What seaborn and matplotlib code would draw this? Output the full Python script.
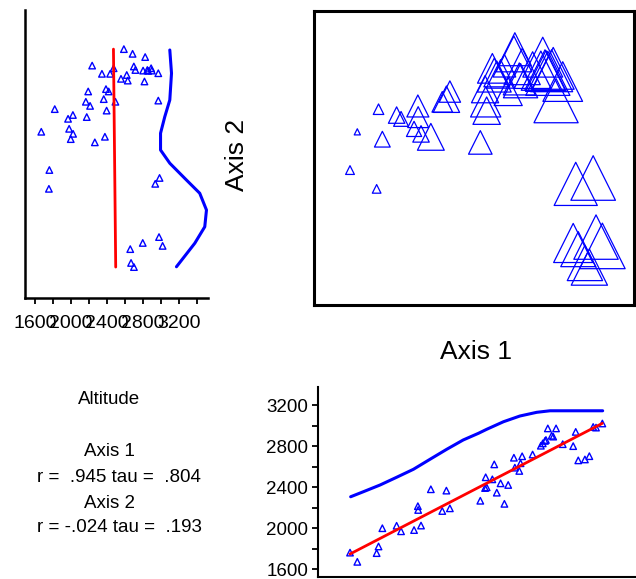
import numpy as np
import pandas as pd
import matplotlib
matplotlib.use("Agg")
import matplotlib.pyplot as plt
import seaborn as sns
from matplotlib.ticker import MultipleLocator, FuncFormatter

# ---------------- data ----------------
axis1 = [10.1, 12.4, 18.5, 19.1, 20.3, 24.8, 26.2, 30.3, 32.5, 31.5,
         31.6, 35.6, 39.2, 40.5, 41.6, 51.2, 52.9, 52.7, 53.2, 55.0,
         55.6, 56.4, 57.6, 58.8, 60.0, 61.8, 62.1, 63.5, 63.9, 64.4,
         67.7, 70.3, 70.9, 71.6, 71.9, 72.5, 73.7, 74.2, 75.1, 77.2,
         81.3, 86.8, 87.7, 89.7, 80.5, 82.1, 84.2, 85.6]
axis2 = [45.9, 58.9, 39.5, 66.6, 56.4, 64.6, 63.3, 59.9, 58.2, 67.7,
         63.9, 57.2, 69.1, 70.0, 72.6, 55.3, 69.1, 73.4, 66.1, 80.5,
         78.2, 78.6, 78.6, 81.4, 72.6, 85.4, 87.0, 76.9, 76.3, 81.1,
         79.9, 79.7, 84.3, 79.9, 79.6, 78.8, 79.7, 80.5, 69.5, 76.0,
         41.2, 43.2, 23.1, 20.1, 21.1, 19.0, 14.3, 12.9]
altitude = [1760, 1670, 1755, 1820, 1998, 2022, 1968, 1980, 2024, 2213,
            2176, 2378, 2166, 2365, 2192, 2266, 2495, 2390, 2397, 2475,
            2621, 2345, 2436, 2236, 2420, 2686, 2589, 2557, 2632, 2700,
            2717, 2803, 2826, 2850, 2859, 2972, 2900, 2892, 2972, 2818,
            2938, 2986, 2980, 3020, 2799, 2660, 2669, 2701]

# smoothed curves
curve_b_axis1 = [10.3, 14.3, 19.6, 24.8, 30.1, 35.3, 40.6, 45.8, 50.6, 53.2,
                 58.5, 63.7, 69.0, 73.2, 89.8]
curve_b_alt = [2305, 2354, 2420, 2495, 2573, 2670, 2768, 2859, 2924, 2963,
               3037, 3093, 3129, 3144, 3144]
curve_l_axis2 = [86.7, 78.8, 69.7, 64.0, 58.4, 52.7, 48.2, 42.5, 38.0, 32.3,
                 26.6, 21.0, 13.0]
curve_l_alt = [3100, 3119, 3100, 3044, 2997, 2997, 3100, 3285, 3433, 3508,
               3489, 3378, 3174]

stats_title = "Altitude"
stats_lines = ["Axis 1", "r =  .945 tau =  .804", "Axis 2", "r = -.024 tau =  .193"]
x_label = "Axis 1"
y_label = "Axis 2"

df = pd.DataFrame({"axis1": axis1, "axis2": axis2, "altitude": altitude})
curve_b = pd.DataFrame({"axis1": curve_b_axis1, "altitude": curve_b_alt})
curve_l = pd.DataFrame({"axis2": curve_l_axis2, "altitude": curve_l_alt})

# ---------------- style ----------------
sns.set_style("white")
plt.rcParams["font.family"] = ["Liberation Sans", "DejaVu Sans"]
plt.rcParams["text.color"] = "black"
plt.rcParams["xtick.color"] = "black"
plt.rcParams["ytick.color"] = "black"
plt.rcParams["axes.labelcolor"] = "black"

BLUE = "#0000ff"
RED = "#ff0000"
W, H = 636, 579
fig = plt.figure(figsize=(W / 100, H / 100), dpi=100)


def rect(l, t, r, b):
    return [l / W, 1 - b / H, (r - l) / W, (b - t) / H]


def alt_fmt(v, pos):
    return f"{int(round(v))}" if int(round(v)) % 400 == 0 else ""


# ---------------- top-left: altitude vs axis 2 ----------------
ax_l = fig.add_axes(rect(25, 10, 208, 298))
sns.scatterplot(data=df, x="altitude", y="axis2", marker="^", s=22,
                facecolor="none", edgecolor=BLUE, linewidth=1.0, ax=ax_l, legend=False)
b1, b0 = np.polyfit(df["axis2"], df["altitude"], 1)
yy = np.array([df["axis2"].min(), df["axis2"].max()])
ax_l.plot(b0 + b1 * yy, yy, color=RED, lw=2.0)
sns.lineplot(data=curve_l, x="altitude", y="axis2", sort=False, estimator=None,
             color=BLUE, lw=2.2, ax=ax_l)
ax_l.set_xlim(1489, 3525)
ax_l.set_ylim(2.38, 100.3)
ax_l.xaxis.set_major_locator(MultipleLocator(200))
ax_l.xaxis.set_major_formatter(FuncFormatter(alt_fmt))
ax_l.set_yticks([])
ax_l.set_xlabel("")
ax_l.set_ylabel("")
for s in ["top", "right"]:
    ax_l.spines[s].set_visible(False)
for s in ["left", "bottom"]:
    ax_l.spines[s].set_color("black")
    ax_l.spines[s].set_linewidth(1.8)
ax_l.tick_params(axis="x", direction="out", length=4, width=1.3, labelsize=14,
                 bottom=True, pad=8, colors="black")

# ---------------- top-right: ordination ----------------
ax_o = fig.add_axes(rect(314, 11, 634, 305))
h_px = 6 + (df["altitude"] - 1665) * 0.0292
size_map = {a: (h * 0.72) ** 2 for a, h in zip(df["altitude"], h_px)}
sns.scatterplot(data=df, x="axis1", y="axis2", size="altitude", sizes=size_map,
                marker="^", facecolor="none", edgecolor=BLUE, linewidth=0.9,
                ax=ax_o, legend=False)
ax_o.set_xlim(-1.26, 99.68)
ax_o.set_ylim(0, 100)
ax_o.set_xticks([])
ax_o.set_yticks([])
ax_o.set_xlabel("")
ax_o.set_ylabel("")
for s in ax_o.spines.values():
    s.set_visible(True)
    s.set_color("black")
    s.set_linewidth(2.2)

# ---------------- bottom-right: axis 1 vs altitude ----------------
ax_b = fig.add_axes(rect(318, 387, 635, 577))
sns.scatterplot(data=df, x="axis1", y="altitude", marker="^", s=22,
                facecolor="none", edgecolor=BLUE, linewidth=1.0, ax=ax_b, legend=False)
c1, c0 = np.polyfit(df["axis1"], df["altitude"], 1)
xx = np.array([df["axis1"].min(), df["axis1"].max()])
ax_b.plot(xx, c0 + c1 * xx, color=RED, lw=2.0)
sns.lineplot(data=curve_b, x="axis1", y="altitude", sort=False, estimator=None,
             color=BLUE, lw=2.2, ax=ax_b)
ax_b.set_xlim(0, 100)
ax_b.set_ylim(1522, 3376)
ax_b.yaxis.set_major_locator(MultipleLocator(200))
ax_b.yaxis.set_major_formatter(FuncFormatter(alt_fmt))
ax_b.set_xticks([])
ax_b.set_xlabel("")
ax_b.set_ylabel("")
for s in ["top", "right"]:
    ax_b.spines[s].set_visible(False)
for s in ["left", "bottom"]:
    ax_b.spines[s].set_color("black")
    ax_b.spines[s].set_linewidth(1.5)
ax_b.tick_params(axis="y", direction="out", length=4, width=1.3, labelsize=13.5,
                 left=True, pad=3, colors="black")

# ---------------- texts ----------------
fig.text(476 / W, 1 - 352 / H, x_label, ha="center", va="center", fontsize=19,
         color="black")
fig.text(237 / W, 1 - 155 / H, y_label, ha="center", va="center", fontsize=19,
         rotation=90, color="black")
fig.text(109 / W, 1 - 400 / H, stats_title, ha="center", va="center",
         fontsize=13.5, color="black")
ys = [452, 478, 503, 528]
xs = [109, 119, 109, 119]
for t, x, y in zip(stats_lines, xs, ys):
    fig.text(x / W, 1 - y / H, t, ha="center", va="center", fontsize=13.5,
             color="black")

fig.savefig("out.png", dpi=100)
